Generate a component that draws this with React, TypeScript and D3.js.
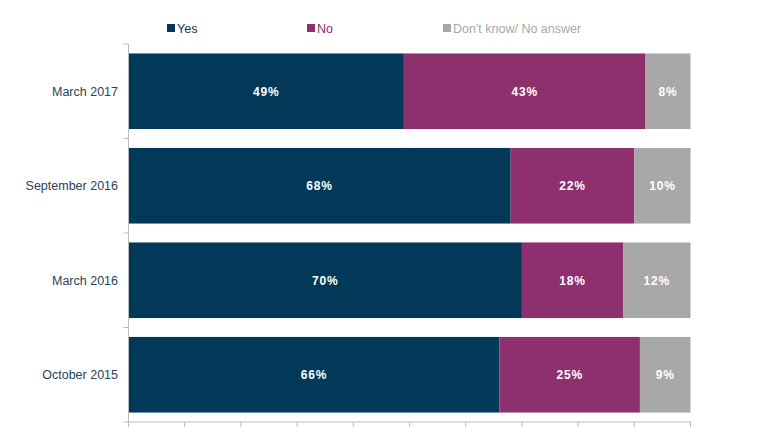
import React from "react";
import * as d3 from "d3";

const categories = ["March 2017", "September 2016", "March 2016", "October 2015"];
const yesValues = [49, 68, 70, 66];
const noValues = [43, 22, 18, 25];
const dkValues = [8, 10, 12, 9];
const seriesNames = ["Yes", "No", "Don't know/ No answer"];
const seriesColors = ["#023858", "#8e306e", "#a8a8a8"];
const legendTextColors = ["#023858", "#8e306e", "#a8a8a8"];
const xTicks = d3.range(0, 101, 10);

export default function App() {
  const width = 770;
  const height = 433;
  const left = 128.5;
  const right = 690.5;
  const top = 44;
  const bottom = 422;

  const x = d3.scaleLinear().domain([0, 100]).range([left, right]);
  const y = d3.scaleBand().domain(categories).range([top, bottom]).paddingInner(0.2).paddingOuter(0.1);
  const yOuter = d3.scaleBand().domain(categories).range([top, bottom]);

  const rows = categories.map((c, i) => ({ cat: c, vals: [yesValues[i], noValues[i], dkValues[i]] }));
  const font = "'Liberation Sans', Arial, sans-serif";

  return (
    <svg width={width} height={height} style={{ position: "absolute", left: 0, top: 0 }} fontFamily={font}>
      <rect width={width} height={height} fill="#fff" />
      {/* legend */}
      {[167, 307, 443].map((lx, i) => (
        <g key={i}>
          <rect x={lx} y={24} width={8} height={8} fill={seriesColors[i]} />
          <text x={lx + 10} y={32.5} fontSize={12.5} fill={legendTextColors[i]}>{seriesNames[i]}</text>
        </g>
      ))}
      {/* bars */}
      {rows.map((r) => {
        let acc = 0;
        return (
          <g key={r.cat}>
            {r.vals.map((v, j) => {
              const x0 = x(acc);
              acc += v;
              const x1 = x(acc);
              return (
                <g key={j}>
                  <rect x={x0} y={y(r.cat)} width={x1 - x0} height={y.bandwidth()} fill={seriesColors[j]} />
                  <text x={(x0 + x1) / 2} y={y(r.cat)! + y.bandwidth() / 2 + 4.5} textAnchor="middle" fontSize={12} fontWeight="bold" letterSpacing={0.8} fill="#fff">{v}%</text>
                </g>
              );
            })}
            <text x={118} y={y(r.cat)! + y.bandwidth() / 2 + 4.5} textAnchor="end" fontSize={12.5} fill="#2a4358">{r.cat}</text>
          </g>
        );
      })}
      {/* y axis */}
      <line x1={left} x2={left} y1={top} y2={bottom} stroke="#bbb" strokeWidth={1} />
      {categories.map((c) => (
        <line key={c} x1={left - 5} x2={left} y1={yOuter(c)!} y2={yOuter(c)!} stroke="#bbb" />
      ))}
      <line x1={left - 5} x2={left} y1={bottom} y2={bottom} stroke="#bbb" />
      {/* x axis */}
      <line x1={left} x2={right} y1={bottom} y2={bottom} stroke="#bbb" />
      {xTicks.map((t) => (
        <line key={t} x1={x(t)} x2={x(t)} y1={bottom} y2={bottom + 5} stroke="#bbb" />
      ))}
    </svg>
  );
}
